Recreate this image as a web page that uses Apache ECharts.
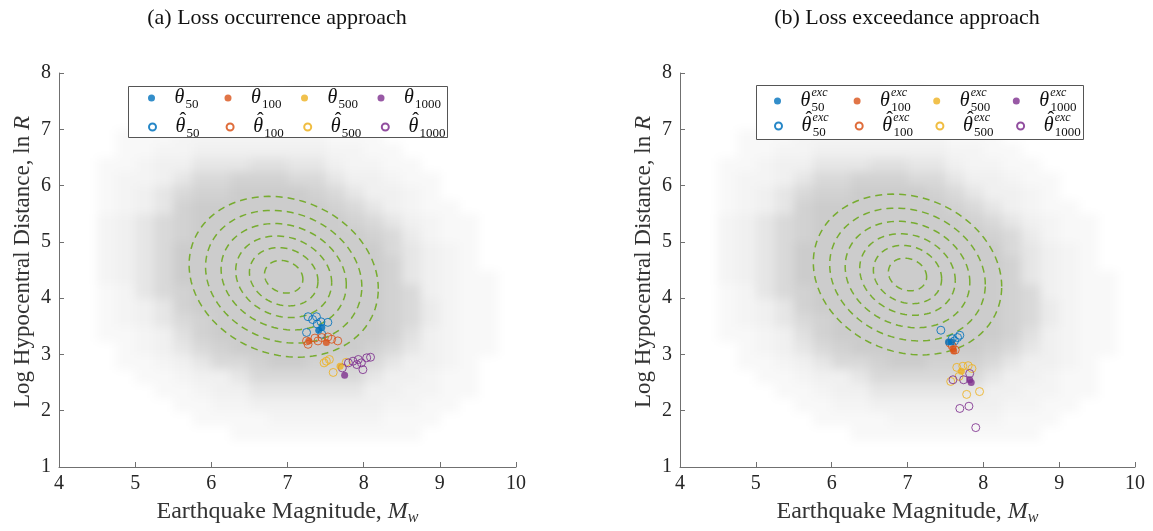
<!doctype html>
<html>
<head>
<meta charset="UTF-8">
<title></title>
<style>
	html, body { margin: 0; padding: 0; background: #fff; }
	#wrap { position: relative; width: 1153px; height: 531px; }
	#cloud, #main { position: absolute; left: 0; top: 0; width: 1153px; height: 531px; }
	#cloud { filter: blur(5px); }
</style>
</head>
<body>
<div id="wrap">
	<div id="cloud"></div>
	<div id="main"></div>
</div>
<script src="https://cdn.jsdelivr.net/npm/echarts@6/dist/echarts.min.js"></script>
<script>
	// gray sample cloud, density 0-9 read per 0.25 x 0.25 cell; row 0 is y 7.5-7.75, col 0 is x 4.5-4.75
	var cloudRows = [
		"000000001010000000000",
		"000011111110000000000",
		"000111122111100000000",
		"011122222222111000000",
		"011223333333221100000",
		"112335556655322110000",
		"122357788877533211000",
		"123578899998753321000",
		"123589999999875321100",
		"235789999999987532110",
		"235789999999998742110",
		"235799999999999753210",
		"235799999999999853210",
		"235799999999999853211",
		"125789999999999873211",
		"123589999999999874211",
		"123578999999999874211",
		"112368999999999863211",
		"012357899999998753211",
		"011235778998887533210",
		"001123357777775332110",
		"000112335555553322110",
		"000011223333333221100",
		"000001111222222111000",
		"000000011111111110000"
	];
	var cloudLeft = 4.5, cloudTop = 7.5, cloudCell = 0.25;

	// dashed contours: centre per panel, [sx, sy, rho], contour radii
	var contourCenterA = [6.95, 4.38];
	var contourCenterB = [7.0, 4.42];
	var contourSpread = [0.6, 0.69, -0.15];
	var contourLevels = [0.42, 0.75, 1.05, 1.37, 1.71, 2.07];

	// (a) loss occurrence
	var occ50 = [[7.41, 3.43], [7.45, 3.48]];
	var occHat50 = [[7.27, 3.67], [7.38, 3.67], [7.44, 3.58], [7.53, 3.57], [7.39, 3.54], [7.25, 3.39], [7.45, 3.36], [7.33, 3.62]];
	var occ100 = [[7.51, 3.21], [7.28, 3.24]];
	var occHat100 = [[7.25, 3.24], [7.36, 3.29], [7.45, 3.30], [7.58, 3.27], [7.66, 3.24], [7.27, 3.18], [7.40, 3.24], [7.53, 3.31]];
	var occ500 = [[7.69, 2.79]];
	var occHat500 = [[7.51, 2.88], [7.55, 2.91], [7.60, 2.68], [7.48, 2.85], [7.77, 2.86]];
	var occ1000 = [[7.75, 2.63]];
	var occHat1000 = [[7.80, 2.85], [7.86, 2.88], [7.93, 2.91], [7.97, 2.85], [8.04, 2.94], [7.99, 2.73], [7.91, 2.82], [8.09, 2.95], [7.72, 2.76]];

	// (b) loss exceedance
	var exc50 = [[7.54, 3.22], [7.58, 3.22]];
	var excHat50 = [[7.44, 3.43], [7.66, 3.30], [7.69, 3.34], [7.62, 3.24], [7.59, 3.28]];
	var exc100 = [[7.61, 3.06], [7.60, 3.10]];
	var excHat100 = [[7.59, 3.15], [7.63, 3.08], [7.56, 3.20]];
	var exc500 = [[7.71, 2.70]];
	var excHat500 = [[7.65, 2.77], [7.73, 2.79], [7.80, 2.80], [7.68, 2.61], [7.57, 2.52], [7.78, 2.29], [7.95, 2.34], [7.85, 2.75]];
	var exc1000 = [[7.84, 2.50], [7.82, 2.55]];
	var excHat1000 = [[7.90, 1.70], [7.69, 2.04], [7.81, 2.08], [7.74, 2.55], [7.82, 2.66], [7.60, 2.55]];

	var colors = { '50': '#0072BD', '100': '#D95319', '500': '#EDB120', '1000': '#7E2F8E' };
	var shades = ['#ffffff', '#f8f8f8', '#f4f4f4', '#f0f0f0', '#ebebeb', '#e6e6e6', '#e0e0e0', '#d9d9d9', '#d2d2d2', '#cccccc'];
	var serif = '"Liberation Serif", "DejaVu Serif", serif';
	var inkColor = '#262626';
	var grids = [
		{ left: 59, top: 73, width: 457, height: 395 },
		{ left: 680, top: 73, width: 455, height: 395 }
	];

	var cloudData = [];
	for (var r = 0; r < cloudRows.length; r++) {
		for (var c = 0; c < cloudRows[r].length; c++) {
			var lv = cloudRows[r].charAt(c) - 0;
			if (lv > 0) cloudData.push([cloudLeft + c * cloudCell, cloudTop - r * cloudCell, lv]);
		}
	}

	function renderCloud(params, api) {
		var p0 = api.coord([api.value(0), api.value(1) + cloudCell]);
		var p1 = api.coord([api.value(0) + cloudCell, api.value(1)]);
		return {
			type: 'rect',
			shape: { x: p0[0], y: p0[1], width: p1[0] - p0[0] + 0.8, height: p1[1] - p0[1] + 0.8 },
			style: { fill: shades[api.value(2)] }
		};
	}

	function renderContour(params, api) {
		var cx = api.value(0), cy = api.value(1), k = api.value(2);
		var sx = contourSpread[0], sy = contourSpread[1], rho = contourSpread[2];
		var pts = [];
		for (var i = 0; i <= 120; i++) {
			var t = i / 120 * Math.PI * 2;
			var x = cx + k * sx * Math.cos(t);
			var y = cy + k * sy * (rho * Math.cos(t) + Math.sqrt(1 - rho * rho) * Math.sin(t));
			pts.push(api.coord([x, y]));
		}
		return {
			type: 'polyline',
			shape: { points: pts },
			style: { stroke: '#77AC30', fill: null, lineWidth: 1.5, lineDash: [7, 5] }
		};
	}

	function xAxisCfg(idx) {
		return {
			gridIndex: idx, type: 'value', min: 4, max: 10, interval: 1,
			axisLine: { show: true, onZero: false, lineStyle: { color: '#707070', width: 1 } },
			axisTick: { show: true, inside: true, length: 5, lineStyle: { color: '#707070' } },
			axisLabel: { color: inkColor, fontFamily: serif, fontSize: 20, margin: 7 },
			splitLine: { show: false },
			name: 'Earthquake Magnitude, {i|M}{s|w}',
			nameLocation: 'middle', nameGap: 32,
			nameTextStyle: {
				color: '#333', fontFamily: serif, fontSize: 24, lineHeight: 26,
				rich: {
					i: { color: '#333', fontFamily: serif, fontSize: 24, fontStyle: 'italic', lineHeight: 26 },
					s: { color: '#333', fontFamily: serif, fontSize: 16, fontStyle: 'italic', lineHeight: 10, height: 14, verticalAlign: 'bottom' }
				}
			}
		};
	}

	function yAxisCfg(idx) {
		return {
			gridIndex: idx, type: 'value', min: 1, max: 8, interval: 1,
			axisLine: { show: true, onZero: false, lineStyle: { color: '#707070', width: 1 } },
			axisTick: { show: true, inside: true, length: 5, lineStyle: { color: '#707070' } },
			axisLabel: { color: inkColor, fontFamily: serif, fontSize: 20, margin: 8 },
			splitLine: { show: false },
			name: 'Log Hypocentral Distance, ln {i|R}',
			nameLocation: 'middle', nameGap: 25,
			nameTextStyle: {
				color: '#333', fontFamily: serif, fontSize: 23, padding: [0, 0, 0, 16],
				rich: { i: { color: '#333', fontFamily: serif, fontSize: 23, fontStyle: 'italic' } }
			}
		};
	}

	function markerSeries(name, data, idx, key, hollow) {
		var col = colors[key];
		return {
			name: name, type: 'scatter', xAxisIndex: idx, yAxisIndex: idx,
			data: data, symbol: 'circle', symbolSize: hollow ? 8 : 7, silent: true, z: hollow ? 4 : 5,
			itemStyle: hollow
				? { color: 'rgba(255,255,255,0)', borderColor: col, borderWidth: 1, opacity: 0.85 }
				: { color: col, borderWidth: 0 }
		};
	}

	// theta with hat, subscript and superscript built from zero-width rich tokens
	function legendLabel(name) {
		var hat = name.charAt(1) === 'h';
		var num = name.replace(/^[ab]h?/, '');
		var head = (hat ? '{h|\u2009\u02C6}' : '') + '{t|\u03B8}';
		if (name.charAt(0) === 'a') return head + '{s|' + num + '}';
		return head + '{p|exc}{w|' + num + '}';
	}

	var legendRich = {
		h: { fontFamily: serif, fontSize: 20, lineHeight: 14, height: 12, verticalAlign: 'top', width: 0.1, color: '#111' },
		t: { fontFamily: serif, fontStyle: 'italic', fontSize: 20, lineHeight: 22, width: 11, color: '#111' },
		s: { fontFamily: serif, fontSize: 13, lineHeight: 10, height: 8, verticalAlign: 'bottom', width: 25, color: '#111' },
		p: { fontFamily: serif, fontStyle: 'italic', fontSize: 12, lineHeight: 10, height: 6, verticalAlign: 'top', width: 0.1, color: '#111' },
		w: { fontFamily: serif, fontSize: 13, lineHeight: 10, height: 8, verticalAlign: 'bottom', width: 28, color: '#111' }
	};

	// one legend per row so the column gap does not also set the row gap
	function legendRow(prefix, hat, left, top, gap) {
		var names = ['50', '100', '500', '1000'].map(function (k) { return prefix + (hat ? 'h' : '') + k; });
		return {
			data: names, left: left, top: top, orient: 'horizontal',
			itemWidth: 36, itemHeight: 7, itemGap: gap, padding: 0,
			selectedMode: false,
			formatter: legendLabel,
			textStyle: { fontFamily: serif, rich: legendRich }
		};
	}

	var cloudSeries = [];
	var series = [];
	[0, 1].forEach(function (idx) {
		cloudSeries.push({
			type: 'custom', xAxisIndex: idx, yAxisIndex: idx, renderItem: renderCloud,
			data: cloudData, silent: true, z: 1, clip: true
		});
		var ctr = idx === 0 ? contourCenterA : contourCenterB;
		series.push({
			type: 'custom', xAxisIndex: idx, yAxisIndex: idx, renderItem: renderContour,
			data: contourLevels.map(function (k) { return [ctr[0], ctr[1], k]; }), silent: true, z: 2
		});
	});

	series.push(markerSeries('ah50', occHat50, 0, '50', true));
	series.push(markerSeries('ah100', occHat100, 0, '100', true));
	series.push(markerSeries('ah500', occHat500, 0, '500', true));
	series.push(markerSeries('ah1000', occHat1000, 0, '1000', true));
	series.push(markerSeries('a50', occ50, 0, '50', false));
	series.push(markerSeries('a100', occ100, 0, '100', false));
	series.push(markerSeries('a500', occ500, 0, '500', false));
	series.push(markerSeries('a1000', occ1000, 0, '1000', false));

	series.push(markerSeries('bh50', excHat50, 1, '50', true));
	series.push(markerSeries('bh100', excHat100, 1, '100', true));
	series.push(markerSeries('bh500', excHat500, 1, '500', true));
	series.push(markerSeries('bh1000', excHat1000, 1, '1000', true));
	series.push(markerSeries('b50', exc50, 1, '50', false));
	series.push(markerSeries('b100', exc100, 1, '100', false));
	series.push(markerSeries('b500', exc500, 1, '500', false));
	series.push(markerSeries('b1000', exc1000, 1, '1000', false));

	// sample cloud on its own softened layer, same grids and axis ranges
	var cloudChart = echarts.init(document.getElementById('cloud'));
	cloudChart.setOption({
		animation: false,
		backgroundColor: '#fff',
		grid: grids,
		xAxis: [0, 1].map(function (i) { return { gridIndex: i, type: 'value', min: 4, max: 10, show: false }; }),
		yAxis: [0, 1].map(function (i) { return { gridIndex: i, type: 'value', min: 1, max: 8, show: false }; }),
		series: cloudSeries
	});

	var chart = echarts.init(document.getElementById('main'));
	chart.setOption({
		animation: false,
		backgroundColor: 'transparent',
		grid: grids,
		xAxis: [xAxisCfg(0), xAxisCfg(1)],
		yAxis: [yAxisCfg(0), yAxisCfg(1)],
		legend: [
			legendRow('a', false, 148, 88, 14),
			legendRow('a', true, 148, 112, 14),
			legendRow('b', false, 774, 87, 14),
			legendRow('b', true, 774, 111, 14)
		],
		graphic: [
			{ type: 'rect', silent: true, z: 0, shape: { x: 128.5, y: 86.5, width: 319, height: 51 },
			  style: { fill: '#fff', stroke: '#555', lineWidth: 1 } },
			{ type: 'rect', silent: true, z: 0, shape: { x: 756.5, y: 85.5, width: 327, height: 54 },
			  style: { fill: '#fff', stroke: '#555', lineWidth: 1 } },
			{ type: 'text', x: 277, y: 18, silent: true,
			  style: { text: '(a) Loss occurrence approach', font: '22px ' + serif, fill: '#111', align: 'center', verticalAlign: 'middle', textAlign: 'center', textVerticalAlign: 'middle' } },
			{ type: 'text', x: 907, y: 18, silent: true,
			  style: { text: '(b) Loss exceedance approach', font: '22px ' + serif, fill: '#111', align: 'center', verticalAlign: 'middle', textAlign: 'center', textVerticalAlign: 'middle' } }
		],
		series: series
	});
</script>
</body>
</html>
